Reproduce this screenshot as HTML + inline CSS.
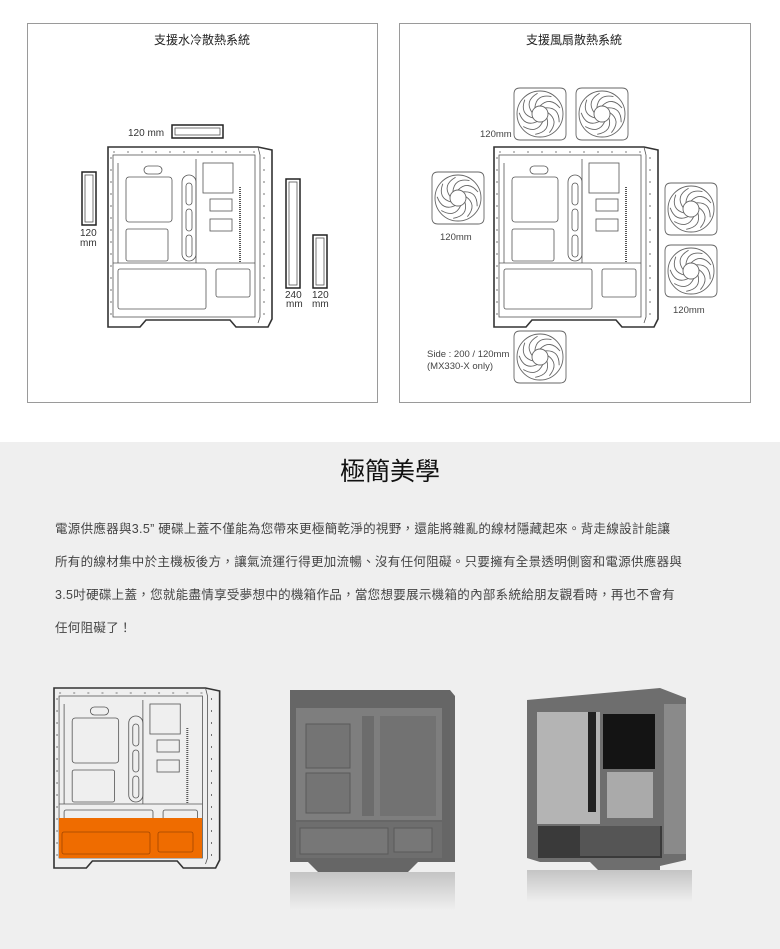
<!DOCTYPE html>
<html><head><meta charset="utf-8">
<style>
html,body{margin:0;padding:0;}
body{width:780px;height:949px;position:relative;background:#fff;font-family:"Liberation Sans","Noto Sans CJK TC",sans-serif;overflow:hidden;}
.box{position:absolute;border:1px solid #9a9a9a;background:#fff;}
.gray{position:absolute;left:0;top:442px;width:780px;height:507px;background:#efefef;}
h2{position:absolute;left:0;width:780px;top:452px;margin:0;text-align:center;font-size:25px;font-weight:normal;color:#111;}
.p{position:absolute;left:55px;top:513px;width:680px;font-size:12.5px;line-height:33px;color:#444;letter-spacing:0.3px;}
svg{position:absolute;left:0;top:0;}
</style></head><body>
<div class="box" style="left:27px;top:23px;width:349px;height:378px"></div>
<div class="box" style="left:399px;top:23px;width:350px;height:378px"></div>
<div class="gray"></div>
<h2>極簡美學</h2>
<div class="p">電源供應器與3.5”&nbsp;硬碟上蓋不僅能為您帶來更極簡乾淨的視野，還能將雜亂的線材隱藏起來。背走線設計能讓<br>所有的線材集中於主機板後方，讓氣流運行得更加流暢、沒有任何阻礙。只要擁有全景透明側窗和電源供應器與<br>3.5吋硬碟上蓋，您就能盡情享受夢想中的機箱作品，當您想要展示機箱的內部系統給朋友觀看時，再也不會有<br>任何阻礙了！</div>
<svg width="780" height="949" viewBox="0 0 780 949" font-family="Liberation Sans, Noto Sans CJK TC, sans-serif">
<defs>
<g id="case" fill="none" stroke="#555" stroke-width="0.8">
<path d="M0,0 H150 L164,3 V172 L160,180 H128 L122,173 H38 L32,180 H0 Z" stroke="#333" stroke-width="1.6"/>
<path d="M150,0 L152,8 V170 L150,176"/>
<rect x="5" y="8" width="142" height="162"/>
<line x1="5" y1="116" x2="147" y2="116"/>
<line x1="10" y1="16" x2="10" y2="116"/>
<line x1="88" y1="12" x2="88" y2="116"/>
<rect x="18" y="30" width="46" height="45" rx="3"/>
<rect x="18" y="82" width="42" height="32" rx="2"/>
<rect x="36" y="19" width="18" height="8" rx="4"/>
<rect x="74" y="28" width="14" height="86" rx="7"/>
<rect x="78" y="36" width="6" height="22" rx="3"/><rect x="78" y="62" width="6" height="22" rx="3"/><rect x="78" y="88" width="6" height="22" rx="3"/>
<rect x="95" y="16" width="30" height="30"/>
<rect x="102" y="52" width="22" height="12"/><rect x="102" y="72" width="22" height="12"/>
<line x1="132" y1="40" x2="132" y2="116" stroke-width="2" stroke-dasharray="1 1"/>
<rect x="10" y="122" width="88" height="40" rx="2"/>
<rect x="108" y="122" width="34" height="28" rx="2"/>
<path d="M5,5 H147" stroke-dasharray="2 12"/>
<path d="M156,10 V170" stroke-dasharray="2 10"/>
<path d="M3,10 V170" stroke-dasharray="2 10"/>
</g>
<g id="fan" fill="none" stroke="#666" stroke-width="0.9">
<path d="M6,0 H46 Q52,0 52,6 V46 Q52,52 46,52 H6 Q0,52 0,46 V6 Q0,0 6,0Z"/>
<circle cx="26" cy="26" r="23"/>
<circle cx="26" cy="26" r="8"/>
<g id="bl"><path d="M26,18 Q36,8 46,20"/></g>
<use href="#bl" transform="rotate(40 26 26)"/><use href="#bl" transform="rotate(80 26 26)"/><use href="#bl" transform="rotate(120 26 26)"/><use href="#bl" transform="rotate(160 26 26)"/><use href="#bl" transform="rotate(200 26 26)"/><use href="#bl" transform="rotate(240 26 26)"/><use href="#bl" transform="rotate(280 26 26)"/><use href="#bl" transform="rotate(320 26 26)"/>
</g>
<linearGradient id="rf" x1="0" y1="0" x2="0" y2="1"><stop offset="0" stop-color="#c4c4c4"/><stop offset="1" stop-color="#efefef"/></linearGradient>
</defs>
<text x="202" y="44" font-size="12" text-anchor="middle" fill="#222">支援水冷散熱系統</text>
<text x="574" y="44" font-size="12" text-anchor="middle" fill="#222">支援風扇散熱系統</text>
<use href="#case" transform="translate(108,147)"/>
<g fill="none" stroke="#222" stroke-width="1.5">
<rect x="172" y="125" width="51" height="13"/><rect x="82" y="172" width="14" height="53"/>
<rect x="286" y="179" width="14" height="109"/><rect x="313" y="235" width="14" height="53"/>
</g>
<g fill="none" stroke="#555" stroke-width="0.8">
<rect x="175" y="128" width="45" height="7"/><rect x="85" y="175" width="8" height="47"/>
<rect x="289" y="182" width="8" height="103"/><rect x="316" y="238" width="8" height="47"/>
</g>
<g font-size="10" fill="#333">
<text x="128" y="136">120 mm</text>
<text x="80" y="236">120</text><text x="80" y="246">mm</text>
<text x="285" y="298">240</text><text x="286" y="307">mm</text>
<text x="312" y="298">120</text><text x="312" y="307">mm</text>
</g>
<use href="#case" transform="translate(494,147)"/>
<use href="#fan" transform="translate(514,88)"/><use href="#fan" transform="translate(576,88)"/>
<use href="#fan" transform="translate(432,172)"/>
<use href="#fan" transform="translate(665,183)"/><use href="#fan" transform="translate(665,245)"/>
<use href="#fan" transform="translate(514,331)"/>
<g font-size="9.5" fill="#444">
<text x="480" y="137">120mm</text><text x="440" y="240">120mm</text><text x="673" y="313">120mm</text>
<text x="427" y="357">Side : 200 / 120mm</text><text x="427" y="369">(MX330-X only)</text>
</g>
<use href="#case" transform="translate(54,688) scale(1.01,1.0)"/>
<rect x="59" y="818" width="143" height="40" fill="#ef6c00"/>
<rect x="62" y="832" width="88" height="22" rx="2" fill="none" stroke="#a04500" stroke-width="0.8"/>
<rect x="158" y="832" width="35" height="20" rx="2" fill="none" stroke="#a04500" stroke-width="0.8"/>
<!-- photo 1 -->
<path d="M290,690 H450 L455,696 V862 H418 L408,872 H318 L308,862 H290 Z" fill="#666"/>
<rect x="296" y="708" width="146" height="112" fill="#7e7e7e"/>
<rect x="306" y="724" width="44" height="44" fill="#747474" stroke="#5a5a5a"/>
<rect x="306" y="773" width="44" height="40" fill="#747474" stroke="#5a5a5a"/>
<rect x="362" y="716" width="12" height="100" fill="#6c6c6c"/>
<rect x="380" y="716" width="56" height="100" fill="#727272"/>
<rect x="296" y="822" width="146" height="36" fill="#6e6e6e"/>
<rect x="300" y="828" width="88" height="26" fill="#777" stroke="#5a5a5a"/>
<rect x="394" y="828" width="38" height="24" fill="#777" stroke="#5a5a5a"/>
<rect x="290" y="872" width="165" height="38" fill="url(#rf)"/>
<!-- photo 2 -->
<path d="M527,700 L660,688 L686,698 V860 L660,866 V872 H600 L590,862 H540 L527,858 Z" fill="#6e6e6e"/>
<rect x="537" y="712" width="63" height="112" fill="#b4b4b4"/>
<rect x="588" y="712" width="8" height="100" fill="#222"/>
<rect x="603" y="714" width="52" height="55" fill="#141414"/>
<rect x="607" y="772" width="46" height="46" fill="#aaa"/>
<rect x="538" y="826" width="124" height="32" fill="#3a3a3a"/>
<rect x="580" y="826" width="80" height="30" fill="#555"/>
<rect x="664" y="704" width="22" height="150" fill="#8a8a8a"/>
<rect x="527" y="870" width="165" height="32" fill="url(#rf)"/>
</svg>
</body></html>
